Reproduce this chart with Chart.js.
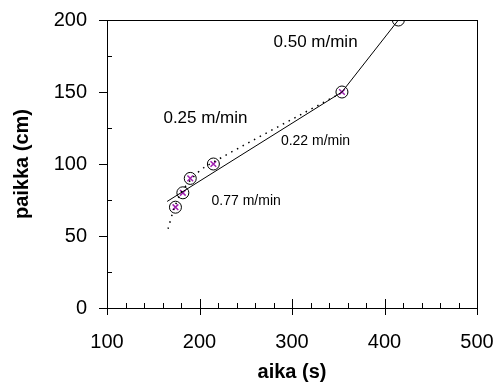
<!DOCTYPE html>
<html>
<head>
  <meta charset="utf-8" />
  <title>paikka vs aika</title>
  <script src="https://cdn.jsdelivr.net/npm/chart.js"></script>
  <style>
    html, body { margin: 0; padding: 0; background: #fff; }
    #wrap { width: 499px; height: 392px; }
  </style>
</head>
<body>
  <div id="wrap"><canvas id="c"></canvas></div>
  <script>
    // measured points (aika s, paikka cm)
    const markTime = [174, 182, 190, 215, 354];
    const markPos = [70, 80, 90, 100, 150];
    const openTime = [415];
    const openPos = [200];
    // fitted lines
    const solidTime = [165, 354, 415];
    const solidPos = [74, 150, 200];
    const dotTime = [166, 172, 180, 192, 206, 352];
    const dotPos = [55, 68, 80, 90, 98, 149];
    // slope labels
    const noteText = ['0.50 m/min', '0.25 m/min', '0.22 m/min', '0.77 m/min'];
    const noteTime = [280, 161, 288, 213];
    const notePos = [184.5, 132, 116, 74];
    const noteSize = [17, 17, 14, 14];

    const FONT = 'Arial, "Liberation Sans", sans-serif';
    const pts = (xs, ys) => xs.map((x, i) => ({ x, y: ys[i] }));

    const frame = {
      id: 'frame',
      afterDatasetsDraw(chart) {
        const { ctx, chartArea: a, scales: { x, y } } = chart;
        ctx.save();
        ctx.strokeStyle = '#000';
        ctx.lineWidth = 1;
        ctx.strokeRect(a.left + 0.5, a.top + 0.5, a.right - a.left, a.bottom - a.top);
        ctx.beginPath();
        for (let v = 100; v <= 500; v += 20) {
          const px = Math.round(x.getPixelForValue(v)) + 0.5;
          if (v % 100 === 0) { ctx.moveTo(px, a.bottom - 9); ctx.lineTo(px, a.bottom + 7); }
          else { ctx.moveTo(px, a.bottom - 5); ctx.lineTo(px, a.bottom); }
        }
        for (let v = 0; v <= 200; v += 25) {
          const py = Math.round(y.getPixelForValue(v)) + 0.5;
          if (v % 50 === 0) { ctx.moveTo(a.left - 8, py); ctx.lineTo(a.left, py); }
          else { ctx.moveTo(a.left, py); ctx.lineTo(a.left + 5, py); }
        }
        ctx.stroke();
        ctx.fillStyle = '#000';
        ctx.textAlign = 'left';
        ctx.textBaseline = 'middle';
        noteText.forEach((t, i) => {
          ctx.font = noteSize[i] + 'px ' + FONT;
          ctx.fillText(t, x.getPixelForValue(noteTime[i]), y.getPixelForValue(notePos[i]));
        });
        ctx.restore();
      }
    };

    new Chart(document.getElementById('c'), {
      type: 'scatter',
      data: {
        datasets: [
          {
            data: pts(dotTime, dotPos), showLine: true, borderColor: '#000',
            borderWidth: 1.5, borderDash: [1.5, 5], pointRadius: 0, tension: 0.3
          },
          {
            data: pts(solidTime, solidPos), showLine: true, borderColor: '#000',
            borderWidth: 1, pointRadius: 0
          },
          {
            data: pts(markTime, markPos), pointStyle: 'crossRot', pointRadius: 4,
            borderColor: '#a020b0', borderWidth: 1.5, backgroundColor: '#a020b0'
          },
          {
            data: pts(markTime, markPos).concat(pts(openTime, openPos)), pointStyle: 'circle',
            pointRadius: 6, borderColor: '#000', borderWidth: 1, backgroundColor: 'rgba(0,0,0,0)'
          }
        ]
      },
      options: {
        responsive: true,
        maintainAspectRatio: false,
        animation: false,
        layout: { padding: { top: 20, right: 22, left: 0, bottom: 0 } },
        plugins: { legend: { display: false }, tooltip: { enabled: false } },
        scales: {
          x: {
            type: 'linear', min: 100, max: 500,
            afterFit: s => { s.height = 84; s.paddingLeft = 0; s.paddingRight = 0; },
            grid: { display: false, drawTicks: false },
            border: { display: false },
            ticks: { stepSize: 100, padding: 22, color: '#000', font: { family: FONT, size: 20 } },
            title: {
              display: true, text: 'aika (s)', color: '#000', padding: { top: 4, bottom: 8 },
              font: { family: FONT, size: 20, weight: 'bold' }
            }
          },
          y: {
            type: 'linear', min: 0, max: 200,
            afterFit: s => { s.width = 107; s.paddingTop = 0; s.paddingBottom = 0; },
            grid: { display: false, drawTicks: false },
            border: { display: false },
            ticks: { stepSize: 50, padding: 20, color: '#000', font: { family: FONT, size: 20 } },
            title: {
              display: true, text: 'paikka (cm)', color: '#000', padding: { top: 10, bottom: 4 },
              font: { family: FONT, size: 20, weight: 'bold' }
            }
          }
        }
      },
      plugins: [frame]
    });
  </script>
</body>
</html>
